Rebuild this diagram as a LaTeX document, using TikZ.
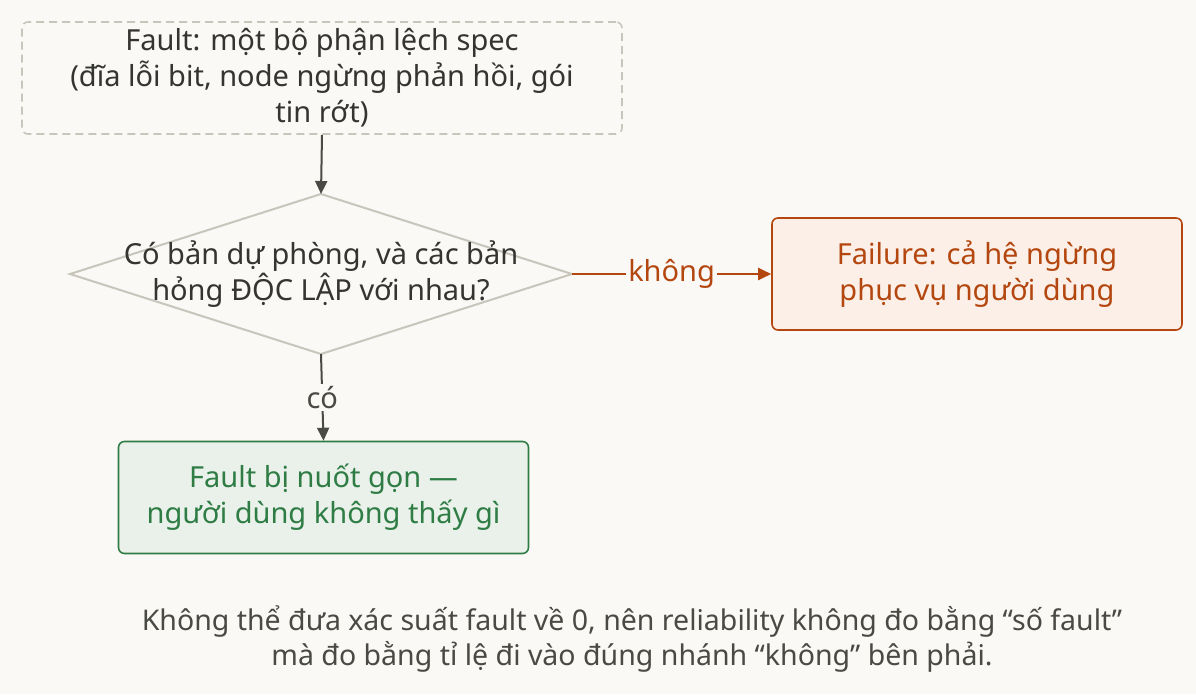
\documentclass[tikz,border=0pt]{standalone}
\usepackage{fontspec}
\setmainfont{Noto Sans}
\usetikzlibrary{shapes.geometric,arrows.meta}
\definecolor{bg}{HTML}{FAF9F6}
\definecolor{ink}{HTML}{4A4A45}
\definecolor{lgray}{HTML}{C8C5BB}
\definecolor{rust}{HTML}{B4470F}
\definecolor{rustfill}{HTML}{FBEFE7}
\definecolor{grn}{HTML}{2F7D45}
\definecolor{grnfill}{HTML}{E9F1EA}
\tikzset{
 every node/.style={font=\fontsize{29}{36}\selectfont, align=center},
 box/.style={draw, rounded corners=6pt, line width=1.6pt, minimum width=410pt, minimum height=112pt, inner sep=0pt},
 arr/.style={-{Triangle[length=13pt,width=12pt]}, line width=2pt, draw=ink},
 lbl/.style={fill=bg, inner sep=2pt}
}
\begin{document}
\begin{tikzpicture}[x=1pt,y=-1pt]
\fill[bg] (0,0) rectangle (1196,694);
\useasboundingbox (0,0) rectangle (1196,694);
\node[box, draw=lgray, dashed, dash pattern=on 8pt off 5pt, minimum width=600pt, text=ink!70!black] (fault) at (322,78) {Fault: một bộ phận lệch spec\\(đĩa lỗi bit, node ngừng phản hồi, gói\\tin rớt)};
\coordinate (dn) at (321,194);
\coordinate (de) at (572,274);
\coordinate (ds) at (321,354);
\coordinate (dw) at (70,274);
\draw[lgray, line width=2pt] (dn) -- (de) -- (ds) -- (dw) -- cycle;
\node[text=ink!70!black] (dec) at (321,274) {Có bản dự phòng, và các bản\\hỏng ĐỘC LẬP với nhau?};
\node[box, draw=rust, fill=rustfill, text=rust] (fail) at (977,274) {Failure: cả hệ ngừng\\phục vụ người dùng};
\node[box, draw=grn, fill=grnfill, text=grn] (ok) at (323.5,497.5) {Fault bị nuốt gọn —\\người dùng không thấy gì};
\draw[arr] (fault.south) -- (dn);
\draw[arr, draw=rust, -{Triangle[length=13pt,width=12pt,fill=rust]}] (de) -- node[lbl, text=rust]{không} (fail.west);
\draw[arr] (ds) -- node[lbl, text=ink]{có} (ok.north);
\node[text=ink, font=\fontsize{28.5}{35}\selectfont] (note) at (632,639) {Không thể đưa xác suất fault về 0, nên reliability không đo bằng “số fault”\\mà đo bằng tỉ lệ đi vào đúng nhánh “không” bên phải.};
\end{tikzpicture}
\end{document}
